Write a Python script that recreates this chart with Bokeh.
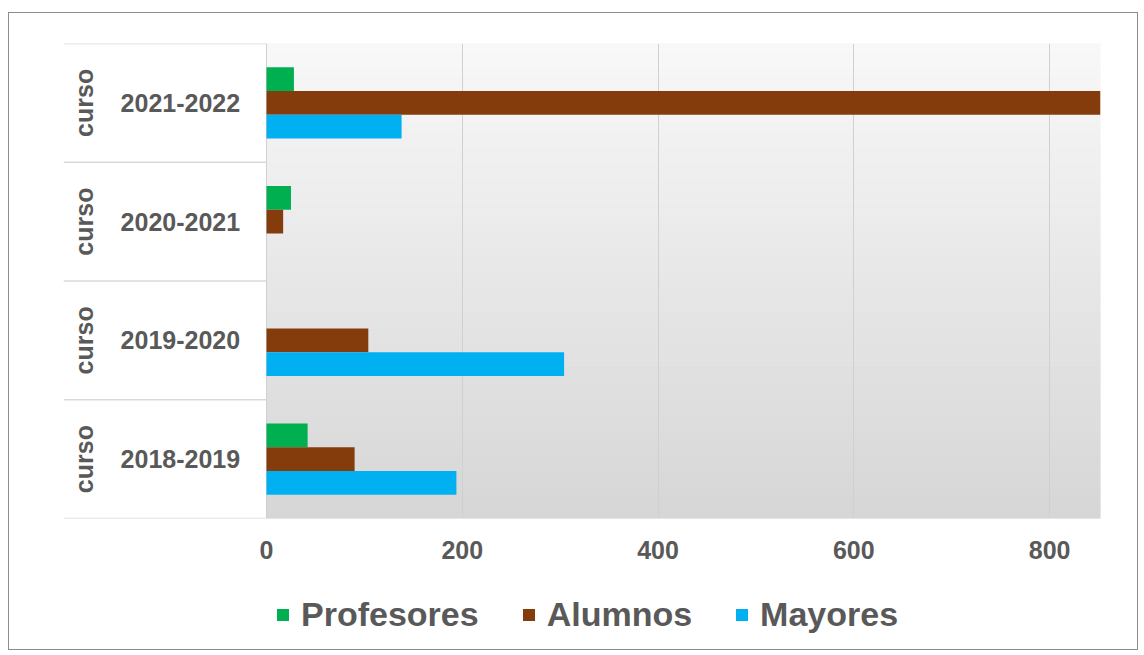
from bokeh.plotting import figure
from bokeh.layouts import column
from bokeh.models import (FactorRange, Range1d, FixedTicker, Legend, LegendItem,
                          ColumnDataSource)
from bokeh.transform import dodge
from bokeh.core.properties import value
from bokeh.embed import file_html
from bokeh.resources import INLINE

# ---- data ----
years = ["2018-2019", "2019-2020", "2020-2021", "2021-2022"]
group_label = "curso"
profesores = [42, 0, 25, 28]
alumnos = [90, 104, 17, 853]
mayores = [194, 304, 0, 138]
series_names = ["Profesores", "Alumnos", "Mayores"]
series_colors = ["#00b050", "#843c0c", "#00b0f0"]
x_ticks = [0, 200, 400, 600, 800]

TEXT = "#595959"
FONT = "Liberation Sans"

src = ColumnDataSource(dict(year=years, Profesores=profesores,
                            Alumnos=alumnos, Mayores=mayores))

X_LEFT = -207.4   # label column occupies the left part of the frame
X_RIGHT = 852.0

p = figure(width=1128, height=565, output_backend="svg", toolbar_location=None,
           y_range=FactorRange(factors=years, range_padding=0),
           x_range=Range1d(X_LEFT, X_RIGHT),
           y_axis_location=None,
           min_border_left=54, min_border_top=30, min_border_right=37,
           min_border_bottom=60)
p.outline_line_color = None
p.background_fill_color = "white"
p.border_fill_color = "white"

# gradient background of the bar area (styling strips)
n = len(years)
N = 60
bottoms = [i * n / N for i in range(N)]
tops = [(i + 1) * n / N for i in range(N)]
cols = []
for i in range(N):
    t = (i + 0.5) / N  # 0 bottom -> 1 top
    g = int(round(0xd6 + (0xf8 - 0xd6) * t))
    cols.append("#%02x%02x%02x" % (g, g, g))
p.quad(left=0, right=X_RIGHT, bottom=bottoms, top=tops, fill_color=cols,
       line_color=cols, line_width=1, level="image")

# grid
p.xgrid.ticker = FixedTicker(ticks=x_ticks)
p.xgrid.grid_line_color = "#d0d0d0"
p.ygrid.grid_line_color = None

# x axis
p.xaxis.ticker = FixedTicker(ticks=x_ticks)
p.xaxis.axis_line_color = None
p.xaxis.major_tick_line_color = None
p.xaxis.minor_tick_line_color = None
p.xaxis.major_label_text_font = FONT
p.xaxis.major_label_text_font_style = "bold"
p.xaxis.major_label_text_font_size = "25px"
p.xaxis.major_label_text_color = TEXT
p.xaxis.major_label_standoff = 16

# bars
h = 0.2
p.hbar(y=dodge("year", 0.2, range=p.y_range), right="Profesores", left=0,
       height=h, source=src, fill_color=series_colors[0], line_color=None)
p.hbar(y=dodge("year", 0.0, range=p.y_range), right="Alumnos", left=0,
       height=h, source=src, fill_color=series_colors[1], line_color=None)
p.hbar(y=dodge("year", -0.2, range=p.y_range), right="Mayores", left=0,
       height=h, source=src, fill_color=series_colors[2], line_color=None)

# label column: separators, year labels and rotated group labels
p.segment(x0=X_LEFT, x1=0, y0=list(range(n + 1)), y1=list(range(n + 1)),
          line_color="#d9d9d9", line_width=1.5)
p.text(x=-88, y=years, text=years, text_font=value(FONT),
       text_font_style="bold", text_font_size="25px", text_color=TEXT,
       text_align="center", text_baseline="middle")
p.text(x=-186, y=years, text=[group_label] * n, angle=1.5708,
       text_font=value(FONT), text_font_style="bold", text_font_size="25px",
       text_color=TEXT, text_align="center", text_baseline="middle")

# legend strip below the chart (proxy renderers lie outside the visible range)
lp = figure(width=1128, height=71, output_backend="svg", toolbar_location=None,
            x_range=Range1d(0, 1), y_range=Range1d(0, 1),
            x_axis_location=None, y_axis_location=None,
            min_border=0)
lp.outline_line_color = None
lp.grid.visible = False
items = []
for name, color in zip(series_names, series_colors):
    r = lp.hbar(y=[-5], right=[-5], left=-6, height=0.5, fill_color=color,
                line_color=None)
    items.append(LegendItem(label=name, renderers=[r]))
legend = Legend(items=items, orientation="horizontal", location=(212, 15),
                glyph_width=15, glyph_height=15, label_standoff=11, spacing=42,
                padding=0, margin=0, border_line_color=None,
                background_fill_alpha=0,
                label_text_font=FONT, label_text_font_style="bold",
                label_text_font_size="34px", label_text_color=TEXT)
lp.add_layout(legend, "center")

layout = column(p, lp, spacing=0)
layout.styles = {"margin-top": "12px", "margin-left": "8px",
                 "border": "1px solid #8c8c8c", "background": "white"}

open("out.html", "w").write(file_html(layout, INLINE))
